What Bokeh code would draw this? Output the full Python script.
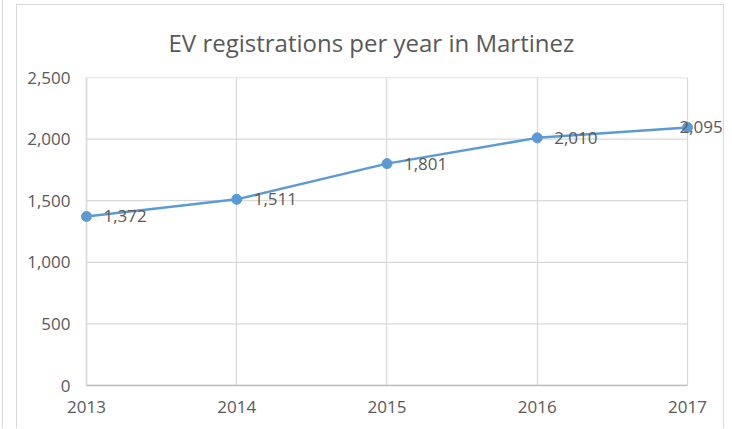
from bokeh.plotting import figure
from bokeh.layouts import row
from bokeh.models import ColumnDataSource, LabelSet, FixedTicker, NumeralTickFormatter, Range1d
from bokeh.core.properties import value
from bokeh.embed import file_html
from bokeh.resources import INLINE

years = [2013, 2014, 2015, 2016, 2017]
registrations = [1372, 1511, 1801, 2010, 2095]
y_ticks = [0, 500, 1000, 1500, 2000, 2500]
title_text = "EV registrations per year in Martinez"

TEXT = "#595959"
GRID = "#d9d9d9"
AXIS = "#bfbfbf"
LINE = "#5B9BD5"
FONT = "Open Sans"

labels = [f"{v:,}" for v in registrations]
src_main = ColumnDataSource(dict(x=years[:-1], y=registrations[:-1], t=labels[:-1]))
src_last = ColumnDataSource(dict(x=years[-1:], y=registrations[-1:], t=labels[-1:]))
src = ColumnDataSource(dict(x=years, y=registrations))
grid_src = ColumnDataSource(dict(x0=[years[0]] * len(y_ticks), x1=[years[-1]] * len(y_ticks),
                                 y=y_ticks))

p = figure(width=708, height=424, output_backend="svg", toolbar_location=None,
           x_range=Range1d(years[0] - 0.04, years[-1] + 0.253),
           y_range=Range1d(y_ticks[0], y_ticks[-1]),
           min_border_left=63, min_border_right=0, min_border_top=72, min_border_bottom=44,
           title=title_text)
p.styles = {"margin-left": "13px", "margin-top": "4px",
            "border-left": "1px solid #d9d9d9", "border-top": "1px solid #d9d9d9",
            "border-right": "1px solid #d9d9d9"}

p.title.text_font = FONT
p.title.text_font_size = "24px"
p.title.text_font_style = "normal"
p.title.text_color = TEXT
p.title.align = "left"
p.title.offset = 88
p.title.standoff = 37

p.outline_line_color = None
p.background_fill_color = "white"
p.border_fill_color = "white"

p.xgrid.grid_line_color = GRID
p.xgrid.grid_line_width = 1.3
p.ygrid.grid_line_color = None
p.segment(x0="x0", x1="x1", y0="y", y1="y", source=grid_src, line_color=GRID,
          line_width=1.3, level="underlay")
# vertical axis line drawn at the first year
p.segment(x0=[years[0]], x1=[years[0]], y0=[y_ticks[0]], y1=[y_ticks[-1]],
          line_color=AXIS, line_width=1.3, level="underlay")

p.xaxis.ticker = FixedTicker(ticks=years)
p.yaxis.ticker = FixedTicker(ticks=y_ticks)
p.yaxis.formatter = NumeralTickFormatter(format="0,0")
p.xaxis.bounds = (years[0], years[-1])
for ax in (p.xaxis, p.yaxis):
    ax.axis_line_color = AXIS
    ax.axis_line_width = 1.3
    ax.major_tick_line_color = None
    ax.minor_tick_line_color = None
    ax.major_label_text_font = FONT
    ax.major_label_text_font_size = "17px"
    ax.major_label_text_color = TEXT
p.yaxis.axis_line_color = None
p.yaxis.major_label_standoff = 4
p.xaxis.major_label_standoff = 9

p.line("x", "y", source=src, line_color=LINE, line_width=2.5)
p.scatter("x", "y", source=src, size=10, fill_color=LINE, line_color=LINE)

p.add_layout(LabelSet(x="x", y="y", text="t", source=src_main, x_offset=17, y_offset=0,
                      text_baseline="middle", text_align="left", text_font=value(FONT),
                      text_font_size="17px", text_color=TEXT))
p.add_layout(LabelSet(x="x", y="y", text="t", source=src_last, x_offset=-8, y_offset=0,
                      text_baseline="middle", text_align="left", text_font=value(FONT),
                      text_font_size="17px", text_color=TEXT))

layout = row(p, styles={"margin-left": "2px", "border-left": "1px solid #d9d9d9"})

open("out.html", "w").write(file_html(layout, INLINE))
